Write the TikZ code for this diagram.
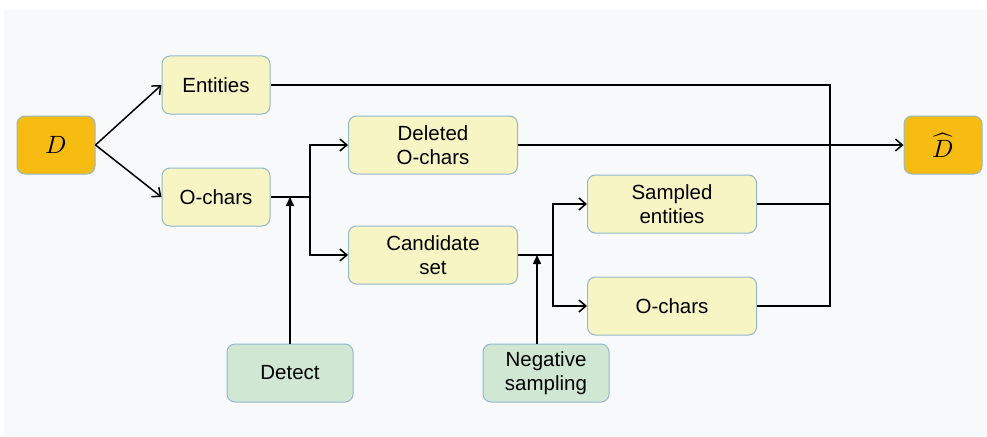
\documentclass[tikz,border=0pt]{standalone}
\usepackage{fontspec}
\usepackage{unicode-math}
\setmainfont{Liberation Sans}
\setmathfont{Latin Modern Math}
\usetikzlibrary{arrows.meta}

\definecolor{bgpanel}{HTML}{F8F9FB}
\definecolor{boxline}{HTML}{93B8CC}
\definecolor{yellowbox}{HTML}{F7F5C4}
\definecolor{greenbox}{HTML}{CFE7D3}
\definecolor{orangebox}{HTML}{F6BC12}

\begin{document}
\begin{tikzpicture}[x=1pt,y=-1pt,
    every node/.style={font=\fontsize{20.5}{24}\selectfont, align=center},
    stage/.style={draw=boxline, line width=1pt, rounded corners=8pt, fill=yellowbox,
        minimum height=58pt, inner sep=2pt},
    tool/.style={stage, fill=greenbox, minimum width=126pt},
    data/.style={stage, fill=orangebox, minimum width=78pt, font=\fontsize{25}{28}\selectfont},
    flow/.style={line width=1.5pt, -{Straight Barb[length=7pt,width=12pt]}},
    feed/.style={line width=1.5pt, -{Triangle[length=9pt,width=8pt]}},
    wire/.style={line width=1.5pt}]

    % panel
    \fill[white] (0,0) rectangle (987,436);
    \fill[bgpanel] (4,10) rectangle (987,436);

    % boxes
    \node[data] (D) at (56,145) {$D$};
    \node[stage, minimum width=108pt] (ent) at (216,85) {Entities};
    \node[stage, minimum width=108pt] (och) at (216,197) {O-chars};
    \node[stage, minimum width=169pt] (del) at (433,145) {Deleted\\O-chars};
    \node[stage, minimum width=169pt] (cand) at (433,255) {Candidate\\set};
    \node[stage, minimum width=169pt] (samp) at (672,204) {Sampled\\entities};
    \node[stage, minimum width=169pt] (och2) at (672,306) {O-chars};
    \node[data] (Dh) at (943,145) {$\widehat{D}$};
    \node[tool] (det) at (290,373) {Detect};
    \node[tool] (neg) at (546,373) {Negative\\sampling};

    % junctions
    \coordinate (j1) at (310,197);
    \coordinate (j2) at (553,255);
    \coordinate (mrg) at (830,85);

    % split of D
    \draw[flow] (D.east) -- (ent.west);
    \draw[flow] (D.east) -- (och.west);

    % detection step
    \draw[wire] (och.east) -- (j1);
    \draw[flow] (j1) |- (del.west);
    \draw[flow] (j1) |- (cand.west);
    \draw[feed] (det.north) -- (det.north |- och.east);

    % negative sampling step
    \draw[wire] (cand.east) -- (j2);
    \draw[flow] (j2) |- (samp.west);
    \draw[flow] (j2) |- (och2.west);
    \draw[feed] (537,0 |- neg.north) -- (537,0 |- cand.east);

    % merge into D hat
    \draw[wire] (ent.east) -- (mrg) |- (och2.east);
    \draw[wire] (samp.east) -- (samp.east -| mrg);
    \draw[flow] (del.east) -- (Dh.west);
\end{tikzpicture}
\end{document}
